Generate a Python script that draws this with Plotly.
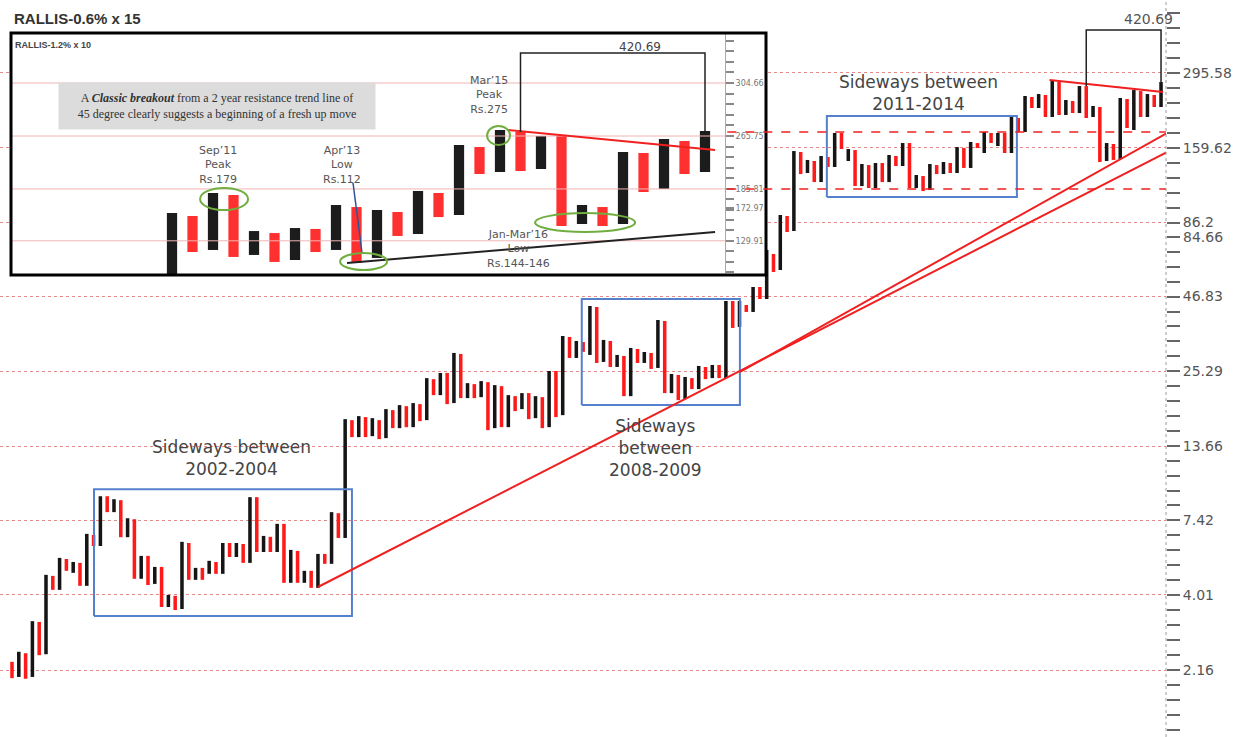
import math
import plotly.graph_objects as go

W, H = 1239, 737

# ---------------- data ----------------
main_title = "RALLIS-0.6% x 15"
inset_title = "RALLIS-1.2% x 10"

# Main point & figure chart (columns alternate O / X, first column is O)
main_first_type = "O"
main_high = [2.31, 2.51, 2.48, 3.23, 3.21, 4.73, 4.69, 5.44, 5.39, 5.26,
             5.22, 6.63, 6.57, 9.04, 9.04, 8.82, 8.75, 7.54, 7.48, 5.53,
             5.53, 5.05, 5.05, 4.01, 3.98, 6.21, 6.15, 5.01, 5.01, 5.31,
             5.26, 6.15, 6.15, 6.15, 6.10, 8.97, 8.97, 6.52, 6.47, 7.20,
             7.20, 5.81, 5.76, 4.89, 4.89, 5.62, 5.62, 7.93, 7.86, 17.06,
             16.92, 17.49, 17.35, 17.20, 16.92, 18.53, 18.38, 19.15, 18.99, 19.47,
             19.31, 23.92, 23.72, 24.96, 24.96, 29.43, 29.19, 22.95, 22.77, 23.34,
             23.14, 22.58, 22.39, 20.79, 20.62, 21.14, 21.14, 20.62, 20.45, 25.37,
             25.37, 33.85, 33.58, 32.49, 32.2, 43.34, 42.98, 32.76, 32.49, 28.95,
             28.71, 30.67, 30.41, 29.67, 29.43, 38.62, 38.31, 24.75, 24.55, 24.15,
             23.92, 26.44, 26.22, 26.66, 26.66, 45.16, 45.16, 45.16, 43.70, 50.68,
             50.68, 68.75, 66.52, 91.69, 90.94, 155.3, 154.1, 144.3, 143.1, 149.1,
             147.9, 180.2, 180.2, 157.9, 156.6, 139.6, 138.4, 140.7, 140.7, 150.3,
             149.1, 165.9, 165.9, 127.5, 126.4, 139.6, 138.4, 141.9, 140.7, 160.5,
             159.2, 167.3, 165.9, 181.7, 180.2, 180.2, 180.2, 205.6, 203.9, 244.4,
             242.4, 248.4, 246.4, 278.8, 274.2, 236.5, 234.5, 265.3, 265.3, 225.1,
             223.2, 165.9, 164.6, 240.4, 238.4, 256.7, 254.6, 248.4, 246.4, 274.2]
main_low = [2.02, 2.04, 2.01, 2.04, 2.44, 2.46, 4.18, 4.18, 4.89, 4.81,
            4.32, 4.32, 6.00, 6.00, 7.93, 7.93, 6.45, 6.45, 4.58, 4.58,
            4.35, 4.39, 3.63, 3.63, 3.54, 3.57, 4.54, 4.54, 4.54, 4.77,
            4.77, 4.77, 5.48, 5.48, 5.22, 5.22, 5.71, 5.71, 5.71, 5.71,
            4.43, 4.43, 4.43, 4.43, 4.25, 4.25, 5.18, 5.18, 6.41, 6.41,
            14.71, 14.71, 14.71, 14.83, 14.47, 14.59, 15.84, 15.84, 15.97, 15.97,
            16.78, 16.92, 20.79, 20.79, 19.31, 19.47, 20.29, 20.29, 20.29, 20.45,
            15.58, 15.84, 15.97, 15.97, 18.23, 18.53, 17.06, 17.20, 15.84, 15.97,
            17.35, 17.63, 28.24, 28.24, 29.7, 28.95, 27.10, 27.33, 26.22, 26.22,
            20.62, 20.62, 27.10, 27.10, 25.80, 26.01, 21.14, 21.14, 19.95, 20.12,
            21.85, 21.85, 23.72, 23.92, 23.92, 23.92, 36.16, 36.46, 41.25, 41.25,
            45.91, 45.91, 57.35, 58.30, 79.71, 80.37, 128.5, 129.6, 120.3, 120.3,
            136.2, 136.2, 157.9, 143.1, 116.4, 116.4, 114.5, 114.5, 120.3, 120.3,
            137.3, 137.3, 114.5, 114.5, 111.7, 112.7, 128.5, 128.5, 129.6, 129.6,
            135.1, 135.1, 159.2, 152.8, 165.9, 161.9, 152.8, 152.8, 181.7, 181.7,
            221.4, 221.4, 205.6, 205.6, 209.0, 209.0, 212.4, 212.4, 203.9, 205.6,
            141.9, 143.1, 144.3, 145.5, 187.8, 184.7, 205.6, 205.6, 223.2, 223.2]

main_tick_vals = [2.16, 4.01, 7.42, 13.66, 25.29, 46.83, 86.2, 159.62, 295.58]
main_tick_text = ["2.16", "4.01", "7.42", "13.66", "25.29", "46.83", "86.2", "159.62", "295.58"]
main_extra_label = "84.66"
main_extra_label_at = 76.5
main_target = 420.69
main_target_text = "420.69"
main_bracket_cols = [159, 170]

# trend / support / resistance lines of main chart (column index, price)
lower_trend_x = [46.0, 170.9]
lower_trend_y = [4.28, 154.1]
upper_trend_x = [108.1, 170.9]
upper_trend_y = [25.2, 180.2]
resist_x = [153.6, 170.3]
resist_y = [278.8, 252.6]
band_levels = [181.7, 113.6]
band_x = [106.2, 170.7]

# consolidation boxes: (col from, col to, low, high)
boxes = [(13.06, 51.0, 3.373, 9.58),
         (84.8, 108.06, 19.15, 45.91),
         (120.85, 148.8, 106.35, 207.26)]

# Inset chart (first column is X)
inset_first_type = "X"
inset_high = [155.7, 152.5, 178.9, 176.4, 137.4, 135.5, 140.3, 139.4, 164.6, 162.3,
              159.0, 156.8, 181.4, 178.9, 249.6, 246.1, 276.9, 273.1, 265.6, 265.6,
              164.6, 162.3, 237.7, 236.1, 260.2, 256.6, 275.0]
inset_low = [99.9, 118.8, 120.5, 114.8, 116.4, 110.9, 112.4, 118.8, 120.5, 110.1,
             114.0, 132.8, 134.6, 151.4, 153.6, 204.1, 206.9, 208.4, 211.3, 142.3,
             144.3, 142.3, 144.3, 180.1, 183.9, 204.1, 206.9]
inset_grid_vals = [128.4, 184.0, 265.6, 383.6]
inset_grid_text = ["129.91", "185.81", "265.75", "304.66"]
inset_extra_tick_val = 161.3
inset_extra_tick_text = "172.97"
inset_target = 472.0
inset_target_text = "420.69"
inset_bracket_cols = [18, 27]
inset_resist_x = [17.34, 27.49]
inset_resist_y = [276.9, 241.0]
inset_support_x = [9.54, 27.49]
inset_support_y = [110.1, 136.5]
inset_pointer_x = [9.83, 10.27]
inset_pointer_y = [191.9, 118.0]
# highlighted areas: (col from, col to, low, high)
inset_ellipses = [(2.37, 4.71, 158.9, 185.3),
                  (9.20, 11.49, 104.9, 118.0),
                  (16.37, 17.49, 249.6, 284.7),
                  (18.71, 23.59, 136.5, 155.6)]

main_notes = [("Sideways between<br>2002-2004", 231, 458),
              ("Sideways<br>between<br>2008-2009", 655, 448),
              ("Sideways between<br>2011-2014", 918, 93)]
inset_notes = [("Sep’11<br>Peak<br>Rs.179", 218, 165),
               ("Apr’13<br>Low<br>Rs.112", 342, 165),
               ("Mar’15<br>Peak<br>Rs.275", 489, 95),
               ("Jan-Mar’16<br>Low<br>Rs.144-146", 518, 249)]
inset_comment = ("A <b><i>Classic breakout</i></b> from a 2 year resistance trend line of<br>"
                 "45 degree clearly suggests a beginning of a fresh up move")

# ---------------- layout geometry ----------------
def px(x):
    return x / W


def py(y):
    return 1 - y / H


MAIN_RIGHT = 1166
main_x_range = [1 - 12 / 6.799, 1 + (MAIN_RIGHT - 12) / 6.799]
main_y_range = [math.log10(2.16) - 67 / 279.5, math.log10(2.16) + 670 / 279.5]

IN_L, IN_R, IN_T, IN_B, IN_AX = 11, 766, 33, 275, 725
inset_x_range = [1 + (IN_L - 172) / 20.5, 1 + (IN_R - 172) / 20.5]
inset_axis_x = 1 + (IN_AX - 172) / 20.5
inset_y_range = [math.log10(275) - (IN_B - 131) / 332, math.log10(275) + (131 - IN_T) / 332]

BLACK = "#151515"
RED = "#ff1a1a"

fig = go.Figure()


def split_cols(high, low, first):
    xs = {"X": [], "O": []}
    for i, (h, l) in enumerate(zip(high, low)):
        t = first if i % 2 == 0 else ("O" if first == "X" else "X")
        xs[t].append((i + 1, h, l))
    return xs


# main bars
mc = split_cols(main_high, main_low, main_first_type)
for t, col in (("X", BLACK), ("O", RED)):
    d = mc[t]
    fig.add_trace(go.Bar(x=[a for a, _, _ in d], y=[h - l for _, h, l in d],
                         base=[l for _, _, l in d], width=0.52,
                         marker=dict(color=col, line=dict(width=0)),
                         xaxis="x", yaxis="y", hoverinfo="skip"))

# boxes
for x0, x1, lo, hi in boxes:
    fig.add_trace(go.Scatter(x=[x0, x1, x1, x0, x0], y=[lo, lo, hi, hi, lo], mode="lines",
                             line=dict(color="#5580cc", width=2), xaxis="x", yaxis="y",
                             hoverinfo="skip"))

# trend lines
for xs, ys in ((lower_trend_x, lower_trend_y), (upper_trend_x, upper_trend_y), (resist_x, resist_y)):
    fig.add_trace(go.Scatter(x=xs, y=ys, mode="lines", line=dict(color="#f02020", width=2),
                             xaxis="x", yaxis="y", hoverinfo="skip"))

# bracket main
bx = [main_bracket_cols[0], main_bracket_cols[0], main_bracket_cols[1], main_bracket_cols[1]]
by = [main_high[main_bracket_cols[0] - 1], main_target, main_target, main_high[main_bracket_cols[1] - 1]]
fig.add_trace(go.Scatter(x=bx, y=by, mode="lines", line=dict(color="#222", width=1.5),
                         xaxis="x", yaxis="y", hoverinfo="skip"))

# ---------------- inset ----------------
for g in inset_grid_vals:
    fig.add_trace(go.Scatter(x=[inset_x_range[0], inset_axis_x], y=[g, g], mode="lines",
                             line=dict(color="#f0b4b4", width=1), xaxis="x2", yaxis="y2",
                             hoverinfo="skip"))

ic = split_cols(inset_high, inset_low, inset_first_type)
for t, col in (("X", "#1c1c1c"), ("O", "#ff3030")):
    d = ic[t]
    fig.add_trace(go.Bar(x=[a for a, _, _ in d], y=[h - l for _, h, l in d],
                         base=[l for _, _, l in d], width=0.5,
                         marker=dict(color=col, line=dict(width=0)),
                         xaxis="x2", yaxis="y2", hoverinfo="skip"))

fig.add_trace(go.Scatter(x=inset_resist_x, y=inset_resist_y, mode="lines",
                         line=dict(color="#f02020", width=2), xaxis="x2", yaxis="y2", hoverinfo="skip"))
fig.add_trace(go.Scatter(x=inset_support_x, y=inset_support_y, mode="lines",
                         line=dict(color="#222", width=2), xaxis="x2", yaxis="y2", hoverinfo="skip"))
fig.add_trace(go.Scatter(x=inset_pointer_x, y=inset_pointer_y, mode="lines",
                         line=dict(color="#2f5597", width=1.5), xaxis="x2", yaxis="y2", hoverinfo="skip"))
ibx = [inset_bracket_cols[0], inset_bracket_cols[0], inset_bracket_cols[1], inset_bracket_cols[1]]
iby = [inset_high[inset_bracket_cols[0] - 1], inset_target, inset_target, inset_high[inset_bracket_cols[1] - 1]]
fig.add_trace(go.Scatter(x=ibx, y=iby, mode="lines", line=dict(color="#222", width=1.5),
                         xaxis="x2", yaxis="y2", hoverinfo="skip"))

# ---------------- ticks ----------------
def geo_minor(vals, below, above):
    out = []
    for a, b in zip(vals[:-1], vals[1:]):
        r = (b / a) ** 0.2
        out += [a * r ** k for k in range(1, 5)]
    r0 = (vals[1] / vals[0]) ** 0.2
    out += [vals[0] / r0 ** k for k in range(1, below + 1)]
    r1 = (vals[-1] / vals[-2]) ** 0.2
    out += [vals[-1] * r1 ** k for k in range(1, above + 1)]
    return out


main_minor = geo_minor(main_tick_vals, 5, 5)
inset_minor = geo_minor(inset_grid_vals, 3, 4)

shapes = [
    # white background of the inset (drawn in the inset subplot, above main chart)
    dict(type="rect", xref="x2", yref="y2", x0=inset_x_range[0], x1=inset_x_range[1],
         y0=10 ** inset_y_range[0], y1=10 ** inset_y_range[1], fillcolor="white",
         line=dict(width=0), layer="below"),
    # inset border
    dict(type="rect", xref="paper", yref="paper", x0=px(IN_L), x1=px(IN_R), y0=py(IN_B), y1=py(IN_T),
         line=dict(color="black", width=3), fillcolor="rgba(0,0,0,0)", layer="above"),
    # main axis dotted line
    dict(type="line", xref="paper", yref="paper", x0=px(MAIN_RIGHT), x1=px(MAIN_RIGHT), y0=0, y1=1,
         line=dict(color="#9a9a9a", width=1, dash="dot"), layer="above"),
]
for lv in band_levels:
    shapes.append(dict(type="line", xref="x", yref="y", x0=band_x[0], x1=band_x[1],
                       y0=lv, y1=lv,
                       line=dict(color="#f02020", width=1.5, dash="dash"), layer="above"))
for x0, x1, lo, hi in inset_ellipses:
    shapes.append(dict(type="circle", xref="x2", yref="y2", x0=x0, x1=x1,
                       y0=lo, y1=hi,
                       line=dict(color="#6fae3f", width=2), layer="above"))

annotations = [
    dict(text="<b>" + main_title + "</b>", x=px(12), y=py(18), xref="paper", yref="paper",
         xanchor="left", yanchor="middle", showarrow=False,
         font=dict(family="Liberation Sans", size=15, color="#333")),
    dict(text="<b>" + inset_title + "</b>", x=px(13), y=py(45), xref="paper", yref="paper",
         xanchor="left", yanchor="middle", showarrow=False,
         font=dict(family="Liberation Sans", size=9, color="#444")),
    dict(text=inset_comment, x=px(217), y=py(106), xref="paper", yref="paper",
         xanchor="center", yanchor="middle", showarrow=False, width=314, height=44,
         bgcolor="#dcdcdc", font=dict(family="Liberation Serif", size=12, color="#333")),
    dict(text=main_target_text, x=px(1148), y=py(19), xref="paper", yref="paper",
         xanchor="center", yanchor="middle", showarrow=False,
         font=dict(family="DejaVu Sans", size=14, color="#555")),
    dict(text=main_extra_label, x=px(1181), xref="paper", y=math.log10(main_extra_label_at), yref="y",
         xanchor="left", yanchor="middle", showarrow=False,
         font=dict(family="DejaVu Sans", size=14, color="#555")),
    dict(text=inset_target_text, x=px(640), y=py(47), xref="paper", yref="paper",
         xanchor="center", yanchor="middle", showarrow=False,
         font=dict(family="DejaVu Sans", size=12, color="#444")),
]
for txt, x, y in main_notes:
    annotations.append(dict(text=txt, x=px(x), y=py(y), xref="paper", yref="paper",
                            xanchor="center", yanchor="middle", showarrow=False,
                            font=dict(family="DejaVu Sans", size=17, color="#444")))
for txt, x, y in inset_notes:
    annotations.append(dict(text=txt, x=px(x), y=py(y), xref="paper", yref="paper",
                            xanchor="center", yanchor="middle", showarrow=False,
                            font=dict(family="DejaVu Sans", size=11, color="#555")))

fig.update_layout(
    width=W, height=H, margin=dict(l=0, r=0, t=0, b=0),
    paper_bgcolor="white", plot_bgcolor="white", showlegend=False, barmode="overlay",
    xaxis=dict(domain=[0, px(MAIN_RIGHT)], range=main_x_range, visible=False, anchor="y"),
    yaxis=dict(type="log", domain=[0, 1], range=main_y_range, side="right", anchor="x",
               tickmode="array", tickvals=main_tick_vals, ticktext=main_tick_text,
               ticks="outside", ticklen=13, tickwidth=1.5, tickcolor="#666",
               tickfont=dict(family="DejaVu Sans", size=14, color="#555"),
               showgrid=True, gridcolor="#e48888", griddash="dot", gridwidth=1,
               zeroline=False, showline=False,
               minor=dict(tickmode="array", tickvals=main_minor, ticks="outside", ticklen=13,
                          tickwidth=1.5, tickcolor="#666", showgrid=False)),
    xaxis2=dict(domain=[px(IN_L), px(IN_R)], range=inset_x_range, visible=False, anchor="y2"),
    yaxis2=dict(type="log", domain=[py(IN_B), py(IN_T)], range=inset_y_range, side="right",
                anchor="free", position=px(IN_AX),
                tickmode="array", tickvals=inset_grid_vals + [inset_extra_tick_val],
                ticktext=inset_grid_text + [inset_extra_tick_text],
                ticks="outside", ticklen=8, tickwidth=1.5, tickcolor="#888",
                tickfont=dict(family="DejaVu Sans", size=8, color="#777"),
                showgrid=False, zeroline=False, showline=True, linecolor="#aaa", linewidth=1,
                minor=dict(tickmode="array", tickvals=inset_minor, ticks="outside", ticklen=8,
                           tickwidth=1.5, tickcolor="#888", showgrid=False)),
    shapes=shapes, annotations=annotations,
)

fig.write_html("out.html")
